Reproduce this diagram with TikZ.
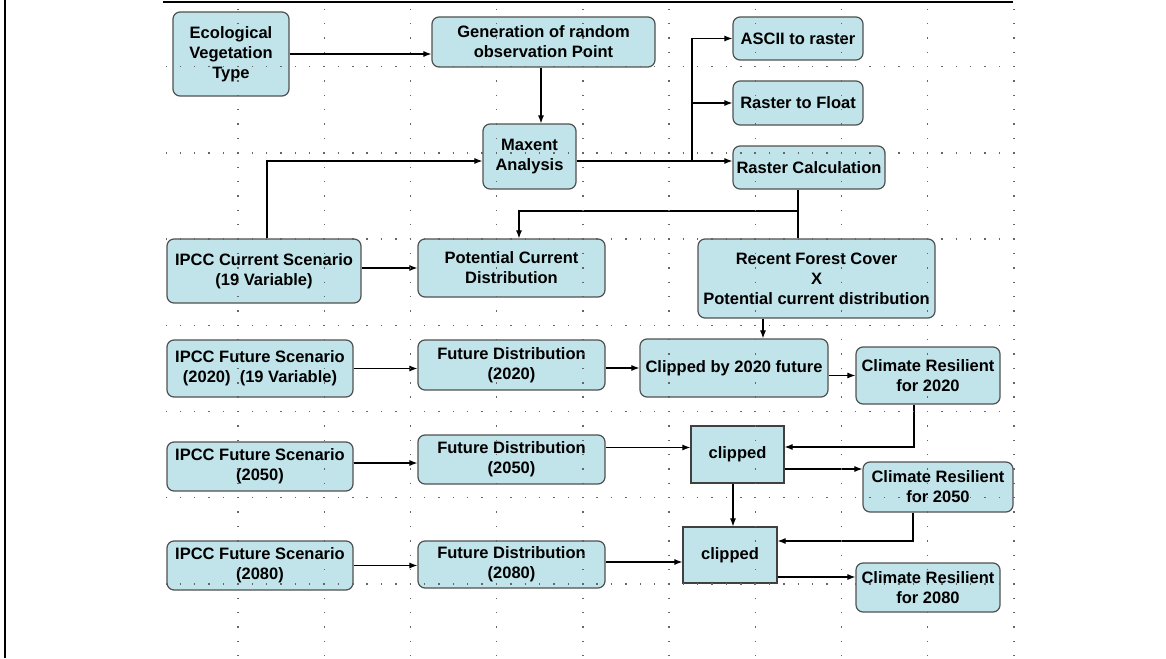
\documentclass[tikz,border=0pt]{standalone}
\usepackage{fontspec}
\setmainfont{Liberation Sans}
\usepackage{tikz}
\usetikzlibrary{arrows.meta}
\definecolor{boxblue}{RGB}{192,228,234}
\definecolor{boxline}{RGB}{80,80,80}
\tikzstyle{procbox}=[draw=boxline,fill=boxblue,line width=1.2pt,rounded corners=7pt,align=center,inner sep=1pt,font=\fontsize{16.5}{20}\selectfont\bfseries]
\tikzstyle{clipbox}=[procbox,rounded corners=0pt,draw=black!75]
\tikzstyle{flow}=[line width=1.1pt,-{Latex[length=8pt,width=6pt]}]
\tikzstyle{plain}=[line width=1.1pt]
\tikzstyle{griddots}=[line width=1.4pt,black!60,dash pattern=on 1.4pt off 12.97pt,dash phase=0.7pt]

\begin{document}
\begin{tikzpicture}[x=1pt,y=-1pt]
\useasboundingbox (0,0) rectangle (1166,658);
\draw[line width=2pt] (5,0) -- (5,658);
\draw[line width=1.5pt] (163,2) -- (1013,2);

\node [procbox,minimum width=116pt,minimum height=84pt] (eco) at (231,54) {Ecological\\Vegetation\\Type};
\node [procbox,minimum width=223pt,minimum height=50pt] (gen) at (543.5,42) {Generation of random\\observation Point};
\node [procbox,minimum width=130pt,minimum height=43pt] (ascii) at (798,38.5) {ASCII to raster};
\node [procbox,minimum width=130pt,minimum height=44pt] (float) at (798,103) {Raster to Float};
\node [procbox,minimum width=152pt,minimum height=43pt] (rcalc) at (809,167.5) {Raster Calculation};
\node [procbox,minimum width=93pt,minimum height=65pt] (maxent) at (529.5,156.5) {Maxent\\Analysis};

\node [procbox,minimum width=194pt,minimum height=64pt] (ipcccur) at (264,271) {IPCC Current Scenario\\(19 Variable)};
\node [procbox,minimum width=187pt,minimum height=58pt] (potcur) at (511.5,268) {Potential Current\\Distribution};
\node [procbox,minimum width=237pt,minimum height=79pt] (forest) at (816.5,278.5) {Recent Forest Cover\\X\\Potential current distribution};

\node [procbox,minimum width=186pt,minimum height=57pt] (ipcc20) at (260,368.5) {IPCC Future Scenario\\(2020)~~(19 Variable)};
\node [procbox,minimum width=187pt,minimum height=50pt] (fut20) at (511.5,365) {Future Distribution\\(2020)};
\node [procbox,minimum width=188pt,minimum height=58pt] (clip20) at (734,368) {Clipped by 2020 future};
\node [procbox,minimum width=144pt,minimum height=57pt] (res20) at (928,375.5) {Climate Resilient\\for 2020};

\node [procbox,minimum width=186pt,minimum height=49pt] (ipcc50) at (260,466.5) {IPCC Future Scenario\\(2050)};
\node [procbox,minimum width=187pt,minimum height=49pt] (fut50) at (511.5,459.5) {Future Distribution\\(2050)};
\node [clipbox,minimum width=93pt,minimum height=57pt] (clip50) at (737.5,454.5) {clipped};
\node [procbox,minimum width=150pt,minimum height=50pt] (res50) at (938,487) {Climate Resilient\\for 2050};

\node [procbox,minimum width=186pt,minimum height=49pt] (ipcc80) at (260,565.5) {IPCC Future Scenario\\(2080)};
\node [procbox,minimum width=187pt,minimum height=47pt] (fut80) at (511.5,564.5) {Future Distribution\\(2080)};
\node [clipbox,minimum width=94pt,minimum height=56pt] (clip80) at (730,555) {clipped};
\node [procbox,minimum width=144pt,minimum height=49pt] (res80) at (928,587.5) {Climate Resilient\\for 2080};

\coordinate (split) at (692,161);
\coordinate (rc) at (798,211);

\draw[flow] (eco.east) -- (eco.east -| gen.west);
\draw[flow] ([xshift=-2.5pt]gen.south) -- ([xshift=-2.5pt]gen.south |- maxent.north);
\draw[plain] (maxent.east |- split) -- (split);
\draw[flow] (split) -- (split -| rcalc.west);
\draw[flow] (split) |- (ascii.west);
\draw[flow] (split) |- (float.west);
\draw[flow] ([xshift=3pt]ipcccur.north) |- (maxent.west |- split);
\draw[plain] (rcalc.south -| rc) -- (forest.north -| rc);
\draw[flow] (rc) -| ([xshift=7.5pt]potcur.north);
\draw[flow] (ipcccur.east |- potcur.west) -- (potcur.west);
\draw[flow] ([xshift=-53.5pt]forest.south) -- ([xshift=-53.5pt]forest.south |- clip20.north);

\draw[flow] (ipcc20.east) -- (ipcc20.east -| fut20.west);
\draw[flow] (clip20.west -| fut20.east) -- (clip20.west);
\draw[flow] (res20.west -| clip20.east) -- (res20.west);
\draw[flow] ([xshift=-14pt]res20.south) |- ([yshift=7.5pt]clip50.east);

\draw[flow] ([yshift=3.5pt]ipcc50.east) -- ([yshift=3.5pt]ipcc50.east -| fut50.west);
\draw[flow] ([yshift=7pt]clip50.west -| fut50.east) -- ([yshift=7pt]clip50.west);
\draw[flow] ([yshift=-14.5pt]clip50.east) -- ([yshift=-14.5pt]clip50.east -| res50.west);
\draw[flow] ([xshift=-4.5pt]clip50.south) -- ([xshift=-4.5pt]clip50.south |- clip80.north);
\draw[flow] ([xshift=-25pt]res50.south) |- ([yshift=14pt]clip80.east);

\draw[flow] (ipcc80.east) -- (ipcc80.east -| fut80.west);
\draw[flow] ([yshift=-7pt]clip80.west -| fut80.east) -- ([yshift=-7pt]clip80.west);
\draw[flow] ([yshift=-22pt]clip80.east) -- ([yshift=-22pt]clip80.east -| res80.west);

\foreach \gx in {0,...,9}
  \draw[griddots] (238+86.2*\gx,9.2) -- (238+86.2*\gx,656);
\foreach \gy in {0,...,6}
  \draw[griddots] (166,66.7+86.2*\gy) -- (1014,66.7+86.2*\gy);
\end{tikzpicture}
\end{document}
